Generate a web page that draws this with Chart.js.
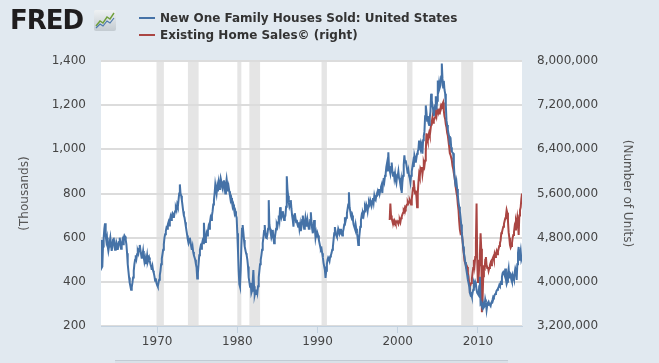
<!DOCTYPE html>
<html>
<head>
<meta charset="utf-8">
<script src="https://cdn.jsdelivr.net/npm/chart.js@4.4.1/dist/chart.umd.min.js"></script>
<style>
  html, body { margin: 0; padding: 0; background: #e1e9f0; }
  #wrap { position: relative; width: 659px; height: 363px; overflow: hidden; background: #e1e9f0; font-family: "DejaVu Sans", Verdana, sans-serif; }
  #chart { position: absolute; left: 0; top: 0; }
  .logo { position: absolute; left: 10px; top: 7px; font-size: 26px; line-height: 26px; font-weight: bold; color: #1f1d1e; letter-spacing: -1px; }
  .icon { position: absolute; left: 94px; top: 10px; }
  .key { position: absolute; left: 139px; width: 16px; height: 2px; }
  .lbl { position: absolute; left: 160px; font-size: 12px; line-height: 14px; font-weight: bold; color: #333; white-space: nowrap; }
  .nav { position: absolute; left: 115px; top: 360px; width: 393px; height: 3px; border-top: 1px solid #c2cbd4; background: #d9e1e8; }
</style>
</head>
<body>
<div id="wrap">
  <canvas id="chart" width="659" height="363"></canvas>
  <div class="logo">FRED</div>
  <svg class="icon" width="22" height="21" viewBox="0 0 22 21">
    <defs><linearGradient id="g" x1="0" y1="0" x2="0" y2="1"><stop offset="0" stop-color="#eef1f3"/><stop offset="1" stop-color="#c3cbd1"/></linearGradient></defs>
    <rect x="0" y="0" width="22" height="21" rx="2" fill="url(#g)"/>
    <polyline points="2,16 6,11 9,13 13,7 16,9 20,3" fill="none" stroke="#6f9f3c" stroke-width="1.4"/>
    <polyline points="2,18 6,14 9,16 13,11 16,13 20,8" fill="none" stroke="#4b79ad" stroke-width="1.2"/>
  </svg>
  <div class="key" style="top:17px;background:#4572a7"></div>
  <div class="lbl" style="top:11px">New One Family Houses Sold: United States</div>
  <div class="key" style="top:34px;background:#aa4643"></div>
  <div class="lbl" style="top:28px">Existing Home Sales© (right)</div>
  <div class="nav"></div>
</div>
<script>
// Monthly series.
// New one family houses sold, thousands, Jan 1963 .. Jul 2015
const HOUSES_START = 1963;
const HOUSES_SOLD = [
  591, 464, 470, 560, 600, 640, 665, 610, 585, 600, 560, 540,   // 1963
  560, 580, 600, 570, 540, 560, 590, 600, 570, 545, 560, 580,   // 1964
  570, 545, 560, 580, 600, 575, 550, 565, 585, 570, 600, 610,   // 1965
  605, 590, 570, 530, 480, 450, 420, 395, 380, 364, 375, 395,   // 1966
  420, 450, 480, 500, 520, 505, 525, 540, 530, 550, 567, 545,   // 1967
  525, 505, 520, 540, 510, 490, 505, 480, 500, 520, 490, 500,   // 1968
  510, 495, 480, 470, 455, 470, 450, 440, 425, 405, 415, 395,   // 1969
  385, 378, 395, 410, 430, 450, 480, 505, 525, 545, 570, 600,   // 1970
  615, 630, 645, 640, 660, 670, 655, 680, 695, 680, 700, 711,   // 1971
  705, 690, 710, 720, 735, 725, 750, 740, 770, 800, 841, 800,   // 1972
  790, 770, 745, 720, 700, 690, 670, 650, 630, 610, 590, 575,   // 1973
  585, 600, 580, 560, 545, 560, 535, 520, 510, 500, 480, 465,   // 1974
  415, 440, 480, 520, 545, 560, 550, 570, 585, 575, 667, 610,   // 1975
  580, 600, 620, 610, 630, 650, 640, 670, 690, 680, 700, 720,   // 1976
  750, 770, 800, 840, 820, 800, 830, 810, 845, 820, 850, 870,   // 1977
  855, 830, 820, 845, 860, 830, 800, 840, 865, 840, 810, 830,   // 1978
  810, 790, 770, 780, 760, 740, 750, 730, 710, 720, 700, 690,   // 1979
  620, 540, 450, 390, 378, 450, 560, 640, 657, 625, 590, 560,   // 1980
  545, 530, 520, 500, 470, 420, 400, 378, 395, 350, 360, 400,   // 1981
  453, 380, 341, 355, 345, 365, 350, 380, 420, 450, 480, 500,   // 1982
  520, 545, 575, 600, 630, 657, 620, 600, 598, 615, 640, 770,   // 1983
  660, 640, 620, 600, 610, 635, 600, 575, 595, 620, 640, 660,   // 1984
  650, 670, 700, 680, 738, 710, 690, 700, 720, 700, 680, 690,   // 1985
  700, 740, 878, 820, 790, 760, 740, 750, 770, 730, 700, 680,   // 1986
  650, 700, 711, 690, 670, 680, 660, 650, 670, 640, 660, 630,   // 1987
  650, 680, 700, 670, 640, 660, 690, 670, 650, 680, 660, 640,   // 1988
  640, 680, 715, 670, 640, 620, 650, 680, 640, 600, 620, 600,   // 1989
  620, 610, 590, 575, 560, 545, 550, 530, 510, 486, 470, 455,   // 1990
  418, 450, 480, 500, 510, 505, 495, 515, 520, 530, 545, 558,   // 1991
  590, 620, 648, 625, 610, 603, 620, 640, 630, 615, 620, 640,   // 1992
  620, 610, 625, 640, 660, 693, 675, 690, 710, 730, 750, 806,   // 1993
  738, 720, 700, 690, 700, 680, 660, 650, 640, 660, 640, 621,   // 1994
  600, 567, 590, 620, 650, 680, 700, 690, 710, 700, 720, 740,   // 1995
  730, 750, 740, 720, 745, 760, 750, 770, 760, 745, 760, 780,   // 1996
  760, 790, 775, 770, 790, 800, 810, 795, 820, 800, 815, 830,   // 1997
  840, 802, 850, 870, 855, 880, 890, 920, 937, 900, 987, 920,   // 1998
  905, 890, 920, 940, 900, 880, 900, 870, 890, 860, 847, 875,   // 1999
  880, 900, 870, 860, 840, 860, 802, 850, 880, 930, 973, 940,   // 2000
  950, 930, 910, 890, 905, 880, 870, 851, 880, 900, 920, 940,   // 2001
  920, 973, 960, 940, 960, 980, 990, 1000, 1040, 1010, 1000, 1030,        // 2002
  1020, 980, 1041, 1060, 1080, 1150, 1199, 1170, 1130, 1150, 1120, 1110,  // 2003
  1145, 1170, 1252, 1220, 1200, 1180, 1150, 1180, 1200, 1240, 1180, 1220, // 2004
  1312, 1270, 1300, 1280, 1290, 1330, 1389, 1320, 1280, 1310, 1270, 1252, // 2005
  1200, 1131, 1110, 1090, 1070, 1060, 1020, 1054, 1010, 990, 985, 982,    // 2006
  930, 880, 850, 829, 850, 820, 790, 760, 740, 720, 693, 660,   // 2007
  620, 590, 560, 531, 515, 490, 470, 450, 430, 409, 395, 380,   // 2008
  350, 340, 345, 333, 350, 364, 395, 385, 400, 390, 364, 350,   // 2009
  350, 340, 380, 423, 300, 304, 287, 280, 300, 285, 290, 320,   // 2010
  305, 273, 295, 305, 310, 300, 295, 290, 305, 310, 320, 333,   // 2011
  330, 340, 345, 350, 360, 364, 370, 375, 385, 380, 395, 390,   // 2012
  423, 440, 445, 440, 430, 460, 410, 390, 400, 440, 460, 420,   // 2013
  440, 435, 410, 400, 430, 420, 410, 440, 460, 450, 409, 480,   // 2014
  530, 558, 500, 520, 540, 500, 510                              // 2015
];

// Existing home sales, thousands of units, Jan 1999 .. Jul 2015
const EXISTING_START = 1999;
const EXISTING_SALES = [
  5120, 5420, 5200, 5150, 5120, 5100, 5080, 5120, 5100, 5060, 5080, 5100, // 1999
  5080, 5050, 5100, 5120, 5080, 5150, 5180, 5220, 5250, 5300, 5280, 5350, // 2000
  5330, 5380, 5400, 5450, 5420, 5450, 5480, 5450, 5400, 5500, 5600, 5700, // 2001
  5840, 5700, 5600, 5650, 5550, 5350, 5600, 5800, 5950, 5900, 6050, 6020, // 2002
  6080, 5950, 6050, 6150, 6100, 6200, 6350, 6690, 6600, 6550, 6650, 6700, // 2003
  6650, 6750, 6850, 6900, 6980, 6880, 6920, 6950, 6980, 7050, 7000, 7110, // 2004
  7080, 7100, 7050, 7110, 7150, 7200, 7180, 7220, 7250, 7100, 7000, 6950, // 2005
  6850, 6800, 6700, 6650, 6550, 6450, 6330, 6300, 6250, 6200, 6100, 6050, // 2006
  5970, 5900, 5800, 5700, 5610, 5550, 5400, 5300, 5100, 4950, 4880, 4900, // 2007
  4880, 4750, 4600, 4500, 4380, 4340, 4300, 4300, 4270, 4160, 4090, 3950, // 2008
  3910, 3950, 3980, 4050, 4160, 4250, 4400, 4300, 4450, 4700, 5420, 4400, // 2009
  3980, 4050, 4300, 4500, 4880, 4600, 3450, 3700, 4100, 4300, 4200, 4400, // 2010
  4450, 4300, 4250, 4270, 4200, 4250, 4300, 4340, 4300, 4400, 4420, 4450, // 2011
  4400, 4500, 4450, 4500, 4550, 4500, 4550, 4600, 4650, 4700, 4750, 4880, // 2012
  4900, 4950, 5000, 5050, 5100, 5150, 5200, 5300, 5250, 5100, 4900, 4800, // 2013
  4670, 4620, 4650, 4700, 4800, 4850, 4900, 5000, 4950, 5100, 5050, 5160, // 2014
  5050, 4850, 5200, 5300, 5350, 5500, 5600                                // 2015
];

// NBER recessions as [start, end] in decimal years
const RECESSIONS = [
  [1969.92, 1970.84], [1973.84, 1975.17], [1980.0, 1980.5], [1981.5, 1982.84],
  [1990.5, 1991.17], [2001.17, 2001.84], [2007.92, 2009.42]
];

const X_TICKS = [1970, 1980, 1990, 2000, 2010];
const LEFT_TICKS = { min: 200, max: 1400, step: 200 };
const RIGHT_TICKS = { min: 3200, max: 8000, step: 800 };

const FONT = { family: '"DejaVu Sans", Verdana, sans-serif', size: 12 };

function monthly(startYear, values) {
  return values.map((v, i) => ({ x: startYear + i / 12, y: v }));
}

// ── white plot area + recession shading, drawn under the grid ─────────
const plotBackground = {
  id: 'plotBackground',
  beforeDraw(chart) {
    const { ctx, chartArea: a, scales: { x } } = chart;
    ctx.save();
    ctx.fillStyle = '#ffffff';
    ctx.fillRect(a.left, a.top, a.right - a.left, a.bottom - a.top);
    ctx.fillStyle = '#e5e5e5';
    RECESSIONS.forEach(([s, e]) => {
      const x0 = Math.max(a.left, x.getPixelForValue(s));
      const x1 = Math.min(a.right, x.getPixelForValue(e));
      ctx.fillRect(x0, a.top, x1 - x0, a.bottom - a.top);
    });
    ctx.restore();
  }
};

new Chart(document.getElementById('chart'), {
  type: 'line',
  data: {
    datasets: [
      {
        label: 'New One Family Houses Sold: United States',
        data: monthly(HOUSES_START, HOUSES_SOLD),
        borderColor: '#4572a7',
        borderWidth: 2,
        pointRadius: 0,
        tension: 0,
        yAxisID: 'y'
      },
      {
        label: 'Existing Home Sales© (right)',
        data: monthly(EXISTING_START, EXISTING_SALES),
        borderColor: '#aa4643',
        borderWidth: 2,
        pointRadius: 0,
        tension: 0,
        yAxisID: 'y1'
      }
    ]
  },
  options: {
    responsive: false,
    animation: false,
    devicePixelRatio: 1,
    layout: { padding: { top: 61, left: 0, right: 0, bottom: 0 } },
    plugins: { legend: { display: false }, tooltip: { enabled: false } },
    scales: {
      x: {
        type: 'linear',
        min: 1963,
        max: 2015.5,
        afterBuildTicks: s => { s.ticks = X_TICKS.map(v => ({ value: v })); },
        afterFit: s => { s.height = 37; },
        ticks: { font: FONT, color: '#444', padding: 2, maxRotation: 0, callback: v => String(v) },
        grid: { drawOnChartArea: false, drawTicks: true, tickLength: 7, color: '#c3d2e0' },
        border: { color: '#c3d2e0', width: 1 }
      },
      y: {
        position: 'left',
        min: LEFT_TICKS.min,
        max: LEFT_TICKS.max,
        afterFit: s => { s.width = 101; },
        ticks: { stepSize: LEFT_TICKS.step, font: FONT, color: '#444', padding: 15,
                 callback: v => v.toLocaleString('en-US') },
        grid: { color: '#dcdcdc', lineWidth: 2, drawTicks: false },
        border: { display: false },
        title: { display: true, text: '(Thousands)', font: FONT, color: '#555', padding: { top: 18, bottom: 0 } }
      },
      y1: {
        position: 'right',
        min: RIGHT_TICKS.min,
        max: RIGHT_TICKS.max,
        afterFit: s => { s.width = 137; },
        ticks: { stepSize: RIGHT_TICKS.step, font: FONT, color: '#444', padding: 15,
                 callback: v => (v * 1000).toLocaleString('en-US') },
        grid: { drawOnChartArea: false, drawTicks: false },
        border: { display: false },
        title: { display: true, text: '(Number of Units)', font: FONT, color: '#555', padding: { top: 25, bottom: 0 } }
      }
    }
  },
  plugins: [plotBackground]
});
</script>
</body>
</html>
